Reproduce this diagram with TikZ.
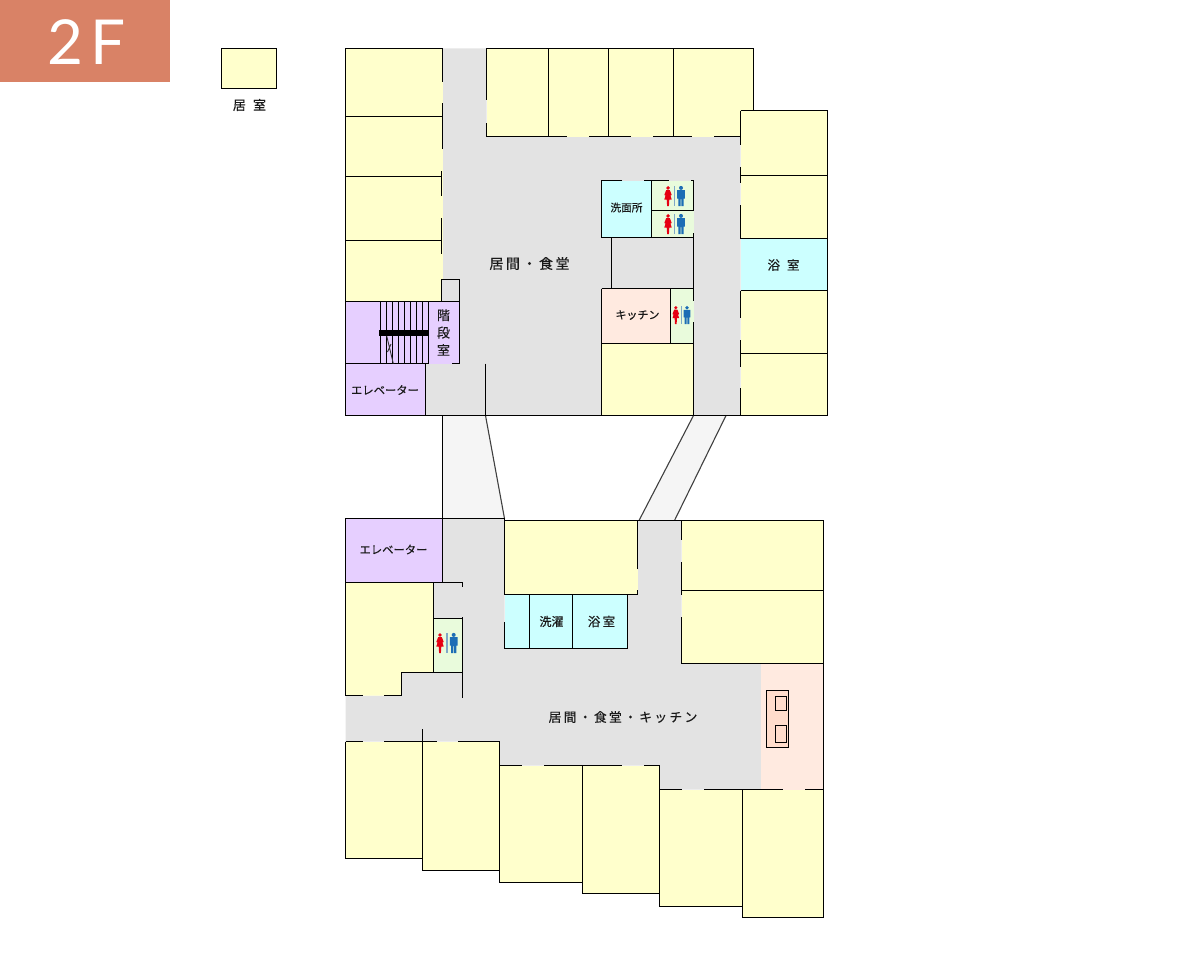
\documentclass[tikz,border=0pt]{standalone}
\usepackage{fontspec}
\setmainfont[FakeBold=0.35]{Noto Sans CJK JP}
\newfontfamily\cjkA[LetterSpace=18,FakeBold=0.4]{Noto Sans CJK JP}
\newfontfamily\cjkB[LetterSpace=55,FakeBold=0.35]{Noto Sans CJK JP}
\newfontfamily\lightfont[LetterSpace=10]{Lato}
\definecolor{roomY}{HTML}{FFFFCC}
\definecolor{bathC}{HTML}{CCFFFF}
\definecolor{stairP}{HTML}{E6CFFF}
\definecolor{hallG}{HTML}{E3E3E3}
\definecolor{linkG}{HTML}{F5F5F5}
\definecolor{kitP}{HTML}{FFEAE0}
\definecolor{wcG}{HTML}{E9FBDC}
\definecolor{counterP}{HTML}{FFDCCB}
\definecolor{headO}{HTML}{D98266}
\definecolor{wcR}{HTML}{E60012}
\definecolor{wcB}{HTML}{1C6DB5}
\definecolor{wcD}{HTML}{7FA8C8}
\tikzset{
  wall/.style={draw=black,line width=1.35pt,line cap=butt},
  slant/.style={draw=black!75,line width=1.1pt},
  lab/.style={inner sep=0pt,text=black!90},
}
\newcommand{\wcicon}[4]{% x woman, x man, y top, scale (1 = 20 px tall)
  \begin{scope}[shift={(#1,#3)},scale=#4]
    \fill[wcR] (0,1.9) circle (1.9);
    \fill[wcR] (-1.8,4) -- (1.8,4) -- (3.7,9) -- (2.5,9.6) -- (2,8) -- (3.7,13.5) -- (1.3,13.5) -- (0.9,20) -- (-0.9,20) -- (-1.3,13.5) -- (-3.7,13.5) -- (-2,8) -- (-2.5,9.6) -- (-3.7,9) -- cycle;
  \end{scope}
  \begin{scope}[shift={(#2,#3)},scale=#4]
    \fill[wcB] (0,1.9) circle (2);
    \fill[wcB] (-3.8,4.2) -- (3.8,4.2) -- (3.8,12.5) -- (2.7,12.5) -- (2.7,20) -- (0.4,20) -- (0.4,13) -- (-0.4,13) -- (-0.4,20) -- (-2.7,20) -- (-2.7,12.5) -- (-3.8,12.5) -- cycle;
  \end{scope}
  \draw[wcD,line width=1.3pt] ({(#1+#2)/2},#3) -- ++(0,20*#4);
}
\begin{document}
\begin{tikzpicture}[x=1pt,y=-1pt]
\useasboundingbox (0,0) rectangle (1177,958);
% header and legend
\fill[headO] (0,0) rectangle (170,81.5);
\node[inner sep=0pt,text=white,font=\lightfont\fontsize{62}{62}\selectfont] (floor) at (86.5,42) {2F};
\filldraw[fill=roomY,wall] (221.5,48.5) rectangle (276.5,88.5);
\node[lab,font=\cjkB\fontsize{13}{13}\selectfont] (legend) at (249.5,105) {居室};
% ---------- upper wing: floors
\fill[hallG] (442.5,48.5) -- (486.5,48.5) -- (486.5,136.5) -- (740.5,136.5) -- (740.5,415.5) -- (425.5,415.5) -- (425.5,363.5) -- (459.3,363.5) -- (459.3,279.5) -- (442,279.5) -- cycle;
\fill[roomY] (345.5,48.5) rectangle (442.5,301.5);
\fill[hallG] (441.5,279.5) rectangle (459.3,301.5);
\fill[roomY] (486.5,48.5) rectangle (753.5,136.5);
\fill[roomY] (740.5,110.5) rectangle (827.5,415.5);
\fill[bathC] (740.5,238.5) rectangle (827.5,290.5);
\fill[stairP] (345.5,301.5) rectangle (459.3,363.5);
\fill[stairP] (345.5,363.5) rectangle (425.5,415.5);
\fill[bathC] (601.5,180.5) rectangle (651.5,237.5);
\fill[wcG] (651.5,180.5) rectangle (693.5,237.5);
\fill[kitP] (601.5,288.5) rectangle (670.5,343.5);
\fill[wcG] (670.5,288.5) rectangle (693.5,343.5);
\fill[roomY] (601.5,343.5) rectangle (693.5,415.5);
% links
\fill[linkG] (442.5,415.5) -- (485.5,415.5) -- (504.5,518.5) -- (442.5,518.5) -- cycle;
\fill[linkG] (693.5,415.5) -- (726,415.5) -- (674.5,520.5) -- (639,520.5) -- cycle;
\draw[wall] (442.5,415.5) -- (442.5,518.5);
\draw[slant] (485.5,415.5) -- (504.5,518.5);
\draw[slant] (693.5,415.5) -- (639,520.5);
\draw[slant] (726,415.5) -- (674.5,520.5);
% upper wing: walls
\draw[wall] (345.5,48.5) -- (442.5,48.5) (486.5,48.5) -- (753.5,48.5) -- (753.5,110.5) (740.5,110.5) -- (827.5,110.5) -- (827.5,415.5) -- (345.5,415.5) -- (345.5,48.5);
\draw[wall] (442.5,48.5) -- (442.5,82) (442.5,103) -- (442.5,149);
\draw[wall] (441.5,171) -- (441.5,196) (441.5,218) -- (441.5,254) (441.5,279) -- (441.5,301.5);
\draw[wall] (345.5,116.5) -- (442.5,116.5) (345.5,176.5) -- (442,176.5) (345.5,240.5) -- (441.5,240.5);
\draw[wall] (441.5,279.5) -- (459.3,279.5) -- (459.3,363.5) -- (452,363.5);
\draw[wall] (345.5,301.5) -- (459.3,301.5) (345.5,363.5) -- (428.7,363.5);
\draw[wall] (425.5,363.5) -- (425.5,415.5) (485.5,363.5) -- (485.5,415.5);
\draw[wall] (486.5,48.5) -- (486.5,100) (486.5,123) -- (486.5,136.5);
\draw[wall] (486.5,136.5) -- (567,136.5) (589,136.5) -- (631,136.5) (653,136.5) -- (692,136.5) (714,136.5) -- (740.5,136.5);
\draw[wall] (548.5,48.5) -- (548.5,136.5) (608.5,48.5) -- (608.5,136.5) (673.5,48.5) -- (673.5,136.5);
\draw[wall] (740.5,110.5) -- (740.5,145) (740.5,167) -- (740.5,183) (740.5,205) -- (740.5,238.5) (740.5,290.5) -- (740.5,318) (740.5,340) -- (740.5,367) (740.5,388) -- (740.5,415.5);
\draw[wall] (740.5,175.5) -- (827.5,175.5) (740.5,238.5) -- (827.5,238.5) (740.5,290.5) -- (827.5,290.5) (740.5,353.5) -- (827.5,353.5);
% wash, WC, kitchen
\draw[wall] (622,180.5) -- (601.5,180.5) -- (601.5,237.5) -- (693.5,237.5);
\draw[wall] (644,180.5) -- (669,180.5) (691,180.5) -- (693.5,180.5) -- (693.5,210.5) -- (651.5,210.5) (651.5,180.5) -- (651.5,237.5);
\draw[wall] (693.5,233) -- (693.5,301) (693.5,322) -- (693.5,415.5);
\draw[wall] (611.5,237.5) -- (611.5,288.5);
\draw[wall] (601.5,288.5) -- (693.5,288.5) (601.5,343.5) -- (693.5,343.5) (601.5,288.5) -- (601.5,415.5) (670.5,288.5) -- (670.5,343.5);
% stairs
\foreach \sx in {380.7,386.7,392.7,398.7,404.7,410.7,416.7,422.7,428.7}
  \draw[wall,line width=1.1pt] (\sx,301.5) -- (\sx,363.5);
\fill[black] (379,329.5) rectangle (428.7,336);
\draw[black!80,line width=0.9pt] (386.7,336) -- (393.3,363.5) (387.5,352) -- (391,344);
% upper wing: icons
\wcicon{668}{681}{186}{1}
\wcicon{668}{681}{214}{1}
\wcicon{675.8}{687}{306}{0.9}
% upper wing: labels
\node[lab,font=\cjkA\fontsize{14}{14}\selectfont] (upperhall) at (529.5,263.5) {居間・食堂};
\node[lab,font=\fontsize{10.7}{11}\selectfont] (wash) at (626.5,207.5) {洗面所};
\node[lab,font=\fontsize{11}{11}\selectfont] (kitchenU) at (637.5,315) {キッチン};
\node[lab,font=\cjkB\fontsize{12.5}{12}\selectfont] (bathU) at (783.5,265) {浴室};
\node[lab,align=center,font=\fontsize{13}{17.5}\selectfont] (stairs) at (443.5,332.5) {階\\段\\室};
\node[lab,font=\fontsize{11.3}{12}\selectfont] (elevU) at (385,390) {エレベーター};
% ---------- lower wing: floors
\fill[hallG] (442.5,518.5) -- (504.5,518.5) -- (504.5,648.5) -- (627.5,648.5) -- (627.5,594.5) -- (637.5,594.5) -- (637.5,520.5) -- (681.5,520.5) -- (681.5,663.5) -- (761,663.5) -- (761,789.5) -- (659.5,789.5) -- (659.5,765.5) -- (499.5,765.5) -- (499.5,741.5) -- (345.5,741.5) -- (345.5,695.5) -- (401.5,695.5) -- (401.5,672.5) -- (433.5,672.5) -- (433.5,582.5) -- (442.5,582.5) -- cycle;
\fill[stairP] (345.5,518.5) rectangle (442.5,582.5);
\fill[roomY] (504.5,520.5) rectangle (637.5,594.5);
\fill[bathC] (504.5,594.5) rectangle (627.5,648.5);
\fill[roomY] (681.5,520.5) rectangle (823.5,663.5);
\fill[kitP] (761,663.5) rectangle (823.5,789.5);
\fill[roomY] (345.5,582.5) -- (433.5,582.5) -- (433.5,672.5) -- (401.5,672.5) -- (401.5,695.5) -- (345.5,695.5) -- cycle;
\fill[wcG] (433.5,618.5) rectangle (462.5,672.5);
\fill[roomY] (345.5,741.5) rectangle (422.5,858.5);
\fill[roomY] (422.5,741.5) rectangle (499.5,870.5);
\fill[roomY] (499.5,765.5) rectangle (582.5,882.5);
\fill[roomY] (582.5,765.5) rectangle (659.5,893.5);
\fill[roomY] (659.5,789.5) rectangle (742.5,906.5);
\fill[roomY] (742.5,789.5) rectangle (823.5,917.5);
% lower wing: walls
\draw[wall] (345.5,695.5) -- (345.5,518.5) -- (504.5,518.5) (442.5,518.5) -- (442.5,582.5);
\draw[wall] (504.5,518.5) -- (504.5,594.5) (504.5,622) -- (504.5,648.5) -- (627.5,648.5) -- (627.5,594.5);
\draw[wall] (504.5,520.5) -- (823.5,520.5) (504.5,594.5) -- (637.5,594.5) -- (637.5,590) (637.5,569) -- (637.5,520.5);
\draw[wall] (529.5,594.5) -- (529.5,648.5) (572.5,594.5) -- (572.5,648.5);
\draw[wall] (681.5,520.5) -- (681.5,540) (681.5,562) -- (681.5,595) (681.5,617) -- (681.5,663.5) -- (823.5,663.5) (681.5,590.5) -- (823.5,590.5);
\draw[wall] (823.5,520.5) -- (823.5,917.5);
\draw[wall] (345.5,582.5) -- (462.5,582.5) -- (462.5,587) (462.5,617) -- (462.5,698);
\draw[wall] (433.5,582.5) -- (433.5,672.5) (433.5,618.5) -- (462.5,618.5) (401.5,695.5) -- (401.5,672.5) -- (462.5,672.5);
\draw[wall] (345.5,695.5) -- (363,695.5) (384,695.5) -- (401.5,695.5);
\draw[wall] (345.5,741.5) -- (363,741.5) (384,741.5) -- (437,741.5) (458,741.5) -- (499.5,741.5);
\draw[wall] (345.5,741.5) -- (345.5,858.5) -- (422.5,858.5) (422.5,729) -- (422.5,870.5) -- (499.5,870.5);
\draw[wall] (499.5,741.5) -- (499.5,882.5) -- (582.5,882.5) (582.5,765.5) -- (582.5,893.5) -- (659.5,893.5);
\draw[wall] (659.5,765.5) -- (659.5,906.5) -- (742.5,906.5) (742.5,789.5) -- (742.5,917.5) -- (823.5,917.5);
\draw[wall] (499.5,765.5) -- (522,765.5) (544,765.5) -- (622,765.5) (644,765.5) -- (659.5,765.5);
\draw[wall] (659.5,789.5) -- (682,789.5) (704,789.5) -- (783,789.5) (805,789.5) -- (823.5,789.5);
% cooker
\filldraw[fill=counterP,wall] (766.5,690.5) rectangle (788.5,747.5);
\draw[wall] (775.5,696.5) rectangle (786.5,710.5) (775.5,725.5) rectangle (786.5,742.5);
% lower wing: icons and labels
\wcicon{440}{453.7}{633}{1}
\node[lab,font=\fontsize{11.3}{12}\selectfont] (elevL) at (393.5,549.5) {エレベーター};
\node[lab,font=\fontsize{12}{12}\selectfont] (laundry) at (551.5,621.5) {洗濯};
\node[lab,font=\cjkA\fontsize{12.5}{12}\selectfont] (bathL) at (601.5,621.5) {浴室};
\node[lab,font=\cjkA\fontsize{12.8}{13}\selectfont] (lowerhall) at (623,717) {居間・食堂・キッチン};
\end{tikzpicture}
\end{document}
